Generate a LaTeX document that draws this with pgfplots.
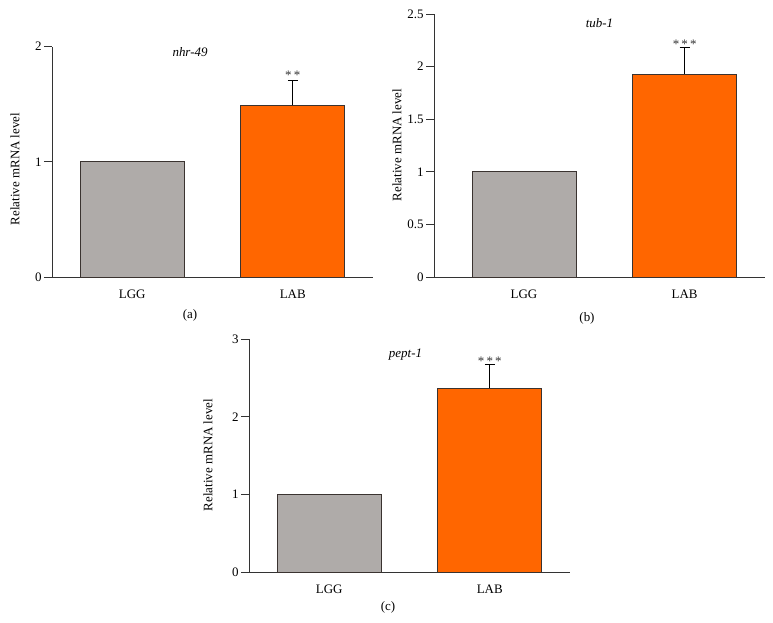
\documentclass[border=0pt]{standalone}
\usepackage{fontspec}
\setmainfont{Liberation Serif}
\usepackage{pgfplots}
\pgfplotsset{compat=1.18}
\definecolor{barGray}{HTML}{AFABA9}
\definecolor{barOrange}{HTML}{FF6600}
\definecolor{edgeC}{HTML}{3A3330}
\definecolor{axC}{HTML}{333333}
\newcommand{\lbl}{\fontsize{13}{15}\selectfont}
\pgfplotsset{
  myaxis/.style={
    scale only axis,
    axis lines*=left,
    axis line style={axC, line width=0.9bp},
    ybar,
    bar width=104bp,
    xmin=-0.5, xmax=1.5,
    ymin=0,
    xtick={0,1},
    xticklabels={LGG,LAB},
    x tick style={draw=none},
    y tick style={axC, line width=0.8bp},
    tick align=outside,
    major tick length=8bp,
    ytick pos=left,
    /pgf/number format/assume math mode=true,
    ticklabel style={font=\lbl, text=black},
    yticklabel style={xshift=1bp},
    xticklabel style={yshift=-1bp},
    clip=false,
  },
  grayb/.style={fill=barGray, draw=edgeC, line width=0.9bp, bar shift=0pt},
  orangeb/.style={fill=barOrange, draw=edgeC, line width=0.9bp, bar shift=0pt,
    error bars/.cd, y dir=plus, y explicit,
    error bar style={black, line width=0.9bp},
    error mark options={black, line width=0.9bp, mark size=5bp, rotate=90}},
}
\begin{document}
\begin{tikzpicture}
\path (0,0) rectangle (773bp,-623bp);
% (a)
\begin{axis}[myaxis, at={(52bp,-277bp)}, anchor=south west,
  width=321bp, height=230.5bp, ymax=2, ytick={0,1,2}]
\addplot[grayb] coordinates {(0,1)};
\addplot[orangeb] coordinates {(1,1.49) +- (0,0.217)};
\node[font=\lbl\itshape] at (axis cs:0.36,1.95) {nhr-49};
\node[font=\lbl, text=black!80] at (axis cs:1,1.75) {*\,*};
\end{axis}
% (b)
\begin{axis}[myaxis, at={(434bp,-277bp)}, anchor=south west,
  width=331bp, height=263bp, xmin=-0.56, xmax=1.5, ymax=2.5,
  ytick={0,0.5,1,1.5,2,2.5}]
\addplot[grayb] coordinates {(0,1)};
\addplot[orangeb] coordinates {(1,1.93) +- (0,0.25)};
\node[font=\lbl\itshape] at (axis cs:0.47,2.41) {tub-1};
\node[font=\lbl, text=black!80] at (axis cs:1,2.21) {*\,*\,*};
\end{axis}
% (c)
\begin{axis}[myaxis, at={(249bp,-572bp)}, anchor=south west,
  width=321bp, height=232.7bp, ymax=3, ytick={0,1,2,3}]
\addplot[grayb] coordinates {(0,1)};
\addplot[orangeb] coordinates {(1,2.37) +- (0,0.30)};
\node[font=\lbl\itshape] at (axis cs:0.475,2.80) {pept-1};
\node[font=\lbl, text=black!80] at (axis cs:1,2.72) {*\,*\,*};
\end{axis}
\node[font=\lbl, rotate=90] at (15bp,-169bp) {Relative mRNA level};
\node[font=\lbl, rotate=90] at (397bp,-145bp) {Relative mRNA level};
\node[font=\lbl, rotate=90] at (208bp,-455bp) {Relative mRNA level};
\node[font=\lbl] at (190bp,-315bp) {(a)};
\node[font=\lbl] at (587bp,-318bp) {(b)};
\node[font=\lbl] at (388bp,-607bp) {(c)};
\end{tikzpicture}
\end{document}
